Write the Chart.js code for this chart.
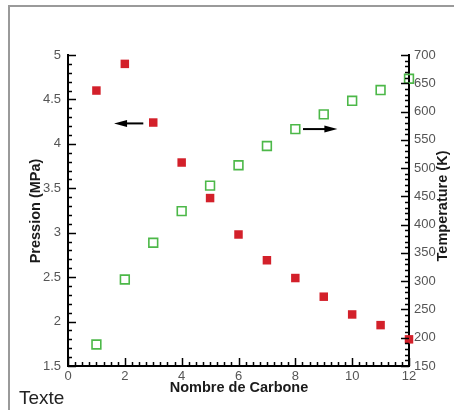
<!DOCTYPE html>
<html>
<head>
<meta charset="utf-8">
<script src="https://cdn.jsdelivr.net/npm/chart.js@4.4.1/dist/chart.umd.min.js"></script>
<style>
  html, body { margin: 0; padding: 0; background: #fff; }
  #wrap { width: 454px; height: 410px; }
</style>
</head>
<body>
<div id="wrap"><canvas id="graphique"></canvas></div>
<script>
// -------------------------------
// DONNEES
// -------------------------------
const nbCarbone = [1, 2, 3, 4, 5, 6, 7, 8, 9, 10, 11, 12];
const pression = [4.6, 4.9, 4.24, 3.79, 3.39, 2.98, 2.69, 2.49, 2.28, 2.08, 1.96, 1.8];
const temperature = [188, 303, 368, 424, 469, 505, 539, 569, 595, 619, 638, 658];

// fleches : [x, y] depart -> arrivee (unites des axes)
const flechePression = [[2.65, 4.23], [1.62, 4.23]];
const flecheTemperature = [[8.27, 569], [9.48, 569]];

const POLICE = "'Liberation Sans', Arial, sans-serif";

// -------------------------------
// PLUGIN : cadre, graduations internes, titres, fleches
// -------------------------------
const decor = {
  id: "decor",
  beforeDraw(chart) {
    const ctx = chart.ctx;
    ctx.save();
    ctx.strokeStyle = "#9a9a9a";
    ctx.lineWidth = 2;
    ctx.strokeRect(9, 6, 460, 420);
    ctx.restore();
  },
  afterDraw(chart) {
    const ctx = chart.ctx;
    const a = chart.chartArea;
    const sx = chart.scales.x, sy = chart.scales.y, st = chart.scales.y1;
    ctx.save();
    ctx.strokeStyle = "#000";
    ctx.lineWidth = 1.5;

    // graduations axe gauche
    for (let v = 1.5; v <= 5.0001; v += 0.1) {
      const y = Math.round(sy.getPixelForValue(v)) + 0.5;
      const maj = Math.abs(v * 2 - Math.round(v * 2)) < 1e-6;
      ctx.beginPath();
      ctx.moveTo(a.left, y);
      ctx.lineTo(a.left + (maj ? 8 : 4), y);
      ctx.stroke();
    }
    // graduations axe droit
    for (let v = 150; v <= 700; v += 10) {
      const y = Math.round(st.getPixelForValue(v)) + 0.5;
      const maj = v % 50 === 0;
      ctx.beginPath();
      ctx.moveTo(a.right, y);
      ctx.lineTo(a.right - (maj ? 8 : 4), y);
      ctx.stroke();
    }
    // graduations axe bas
    for (let v = 0; v <= 12.0001; v += 0.25) {
      const x = Math.round(sx.getPixelForValue(v)) + 0.5;
      const maj = Math.abs(v / 2 - Math.round(v / 2)) < 1e-6;
      ctx.beginPath();
      ctx.moveTo(x, a.bottom);
      ctx.lineTo(x, a.bottom - (maj ? 8 : 4));
      ctx.stroke();
    }

    // fleches
    const fleche = (pts, scaleY) => {
      const x0 = sx.getPixelForValue(pts[0][0]), y0 = scaleY.getPixelForValue(pts[0][1]);
      const x1 = sx.getPixelForValue(pts[1][0]), y1 = scaleY.getPixelForValue(pts[1][1]);
      const dir = Math.sign(x1 - x0);
      ctx.lineWidth = 2;
      ctx.beginPath();
      ctx.moveTo(x0, y0);
      ctx.lineTo(x1 - dir * 8, y1);
      ctx.stroke();
      ctx.fillStyle = "#000";
      ctx.beginPath();
      ctx.moveTo(x1, y1);
      ctx.lineTo(x1 - dir * 13, y1 - 3.5);
      ctx.lineTo(x1 - dir * 13, y1 + 3.5);
      ctx.closePath();
      ctx.fill();
    };
    fleche(flechePression, sy);
    fleche(flecheTemperature, st);

    // titres des axes
    ctx.fillStyle = "#1a1a1a";
    ctx.font = "bold 14.5px " + POLICE;
    ctx.textAlign = "center";
    ctx.textBaseline = "middle";
    ctx.save();
    ctx.translate(36, 211);
    ctx.rotate(-Math.PI / 2);
    ctx.fillText("Pression (MPa)", 0, 0);
    ctx.restore();
    ctx.save();
    ctx.translate(443, 206);
    ctx.rotate(-Math.PI / 2);
    ctx.fillText("Temperature (K)", 0, 0);
    ctx.restore();
    ctx.fillText("Nombre de Carbone", 239, 388);

    ctx.font = "19px " + POLICE;
    ctx.textAlign = "left";
    ctx.fillStyle = "#222";
    ctx.fillText("Texte", 19, 399);
    ctx.restore();
  }
};

// -------------------------------
// GRAPHIQUE
// -------------------------------
const tickFont = { family: POLICE, size: 13 };

new Chart(document.getElementById("graphique"), {
  type: "scatter",
  data: {
    datasets: [
      {
        label: "Pression",
        data: nbCarbone.map((n, i) => ({ x: n, y: pression[i] })),
        yAxisID: "y",
        pointStyle: "rect",
        pointRadius: 6,
        backgroundColor: "#d3202a",
        borderColor: "#d3202a",
        borderWidth: 0
      },
      {
        label: "Temperature",
        data: nbCarbone.map((n, i) => ({ x: n, y: temperature[i] })),
        yAxisID: "y1",
        pointStyle: "rect",
        pointRadius: 6.2,
        backgroundColor: "rgba(0,0,0,0)",
        borderColor: "#4cb848",
        borderWidth: 1.6
      }
    ]
  },
  options: {
    responsive: true,
    maintainAspectRatio: false,
    animation: false,
    clip: false,
    layout: { padding: { left: 9, top: 55, right: 0, bottom: 0 } },
    plugins: { legend: { display: false }, tooltip: { enabled: false } },
    scales: {
      x: {
        type: "linear",
        min: 0, max: 12,
        grid: { display: false, drawTicks: false },
        border: { display: true, color: "#000", width: 2 },
        ticks: { stepSize: 2, autoSkip: false, padding: 3, color: "#555", font: tickFont,
                 maxRotation: 0 },
        afterFit: s => { s.height = 44; }
      },
      y: {
        position: "left",
        min: 1.5, max: 5,
        grid: { display: false, drawTicks: false },
        border: { display: true, color: "#000", width: 2 },
        ticks: { stepSize: 0.5, autoSkip: false, padding: 7, color: "#555", font: tickFont,
                 callback: v => String(Math.round(v * 10) / 10) },
        afterFit: s => { s.width = 59; }
      },
      y1: {
        position: "right",
        min: 150, max: 700,
        grid: { display: false, drawTicks: false },
        border: { display: true, color: "#000", width: 2 },
        ticks: { stepSize: 50, autoSkip: false, padding: 5, color: "#555", font: tickFont },
        afterFit: s => { s.width = 45; }
      }
    }
  },
  plugins: [decor]
});
</script>
</body>
</html>
